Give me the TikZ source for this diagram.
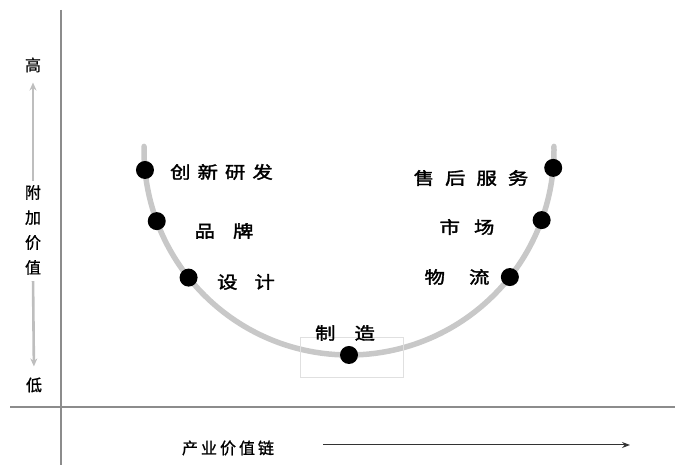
\documentclass[tikz,border=0pt]{standalone}
\usepackage{fontspec}
\usepackage{tikz}
\usetikzlibrary{arrows.meta,positioning,calc}
\newfontfamily\cjk[FakeBold=1]{Noto Sans CJK SC}
\newfontfamily\stagefont[FakeStretch=1.2,FakeBold=2]{Noto Sans CJK SC}
\definecolor{axisgray}{RGB}{140,140,140}
\definecolor{ugray}{RGB}{200,200,200}
\definecolor{hintgray}{RGB}{190,190,190}
\tikzset{
  axisln/.style={line width=1.8pt, axisgray},
  ucurve/.style={line width=5.5pt, ugray, line cap=round},
  hintarr/.style={-{Stealth[length=8pt,width=7pt]}, line width=2.6pt, hintgray},
  chainarr/.style={-{Stealth[length=8pt,width=6pt]}, line width=1pt, black!80},
  stagedot/.style={circle, fill=black, inner sep=0pt, minimum size=18pt},
  stagelbl/.style={font=\stagefont\fontsize{17}{20}\selectfont, inner sep=1pt},
  sidelbl/.style={font=\cjk\fontsize{16}{25}\selectfont, inner sep=2pt, align=center},
}
\newcommand{\gp}[1]{\hspace{#1pt}}
\begin{document}
\begin{tikzpicture}[x=1pt,y=1pt]
  \useasboundingbox (0,0) rectangle (675,470);
  % axes
  \draw[axisln] (61,460) -- (61,5);
  \draw[axisln] (10,63) -- (675,63);
  % value axis labels
  \node[sidelbl] (high) at (33,405) {高};
  \node[sidelbl] (vlab) at (33,240) {附\\加\\价\\值};
  \node[sidelbl] (low) at (34,85) {低};
  \draw[hintarr, shorten <=2pt, shorten >=8pt] (vlab.north) -- (high.south);
  \draw[hintarr, shorten <=4pt, shorten >=9pt] (vlab.south) -- (low.north);
  % smile curve
  \coordinate (c) at (349,320);
  \draw[ucurve] ([shift={(179:205)}]c) arc[start angle=179, end angle=361, radius=205];
  \draw[black!12, line width=0.6pt] (300,93) rectangle (403,133);
  \node[stagedot] (rd)  at ([shift={(185.6:205)}]c) {};
  \node[stagedot] (brd) at ([shift={(200.3:205)}]c) {};
  \node[stagedot] (dsg) at ([shift={(218.5:205)}]c) {};
  \node[stagedot] (mfg) at ([shift={(270:205)}]c) {};
  \node[stagedot] (lgs) at ([shift={(321.7:205)}]c) {};
  \node[stagedot] (mkt) at ([shift={(340:205)}]c) {};
  \node[stagedot] (svc) at ([shift={(355:205)}]c) {};
  \node[stagelbl] (rdl)  at (221.5,298) {创\gp{7}新\gp{7}研\gp{7}发};
  \node[stagelbl] (brdl) at (224,239) {品\gp{18}牌};
  \node[stagelbl] (dsgl) at (246,188) {设\gp{17}计};
  \node[stagelbl] (mfgl) at (345,137) {制\gp{19}造};
  \node[stagelbl] (svcl) at (471,292) {售\gp{11}后\gp{11}服\gp{11}务};
  \node[stagelbl] (mktl) at (467,243) {市\gp{14}场};
  \node[stagelbl] (lgsl) at (457,193) {物\gp{24}流};
  % value chain direction
  \node[sidelbl] (chain) at (228,22) {产\gp{3}业\gp{3}价\gp{3}值\gp{3}链};
  \coordinate (cs) at (323,25);
  \coordinate (ce) at (630,25);
  \draw[chainarr] (cs) -- (ce);
\end{tikzpicture}
\end{document}
